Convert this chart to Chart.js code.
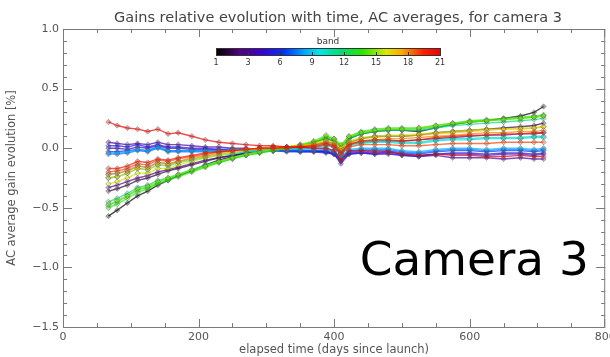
<!DOCTYPE html>
<html>
<head>
<meta charset="utf-8">
<script src="https://cdn.jsdelivr.net/npm/chart.js@4.4.0/dist/chart.umd.min.js"></script>
<style>
  html, body { margin: 0; padding: 0; background: #fff; }
  #wrap { width: 610px; height: 357px; position: relative; }
</style>
</head>
<body>
<div id="wrap"><canvas id="gainChart"></canvas></div>
<script>
// elapsed days (x) for each measurement
const days = [67, 80, 95, 110, 125, 140, 155, 170, 190, 210, 230, 250, 270, 290, 310, 330, 350, 370, 388, 400,
              410, 422, 440, 460, 480, 500, 525, 550, 575, 600, 625, 650, 675, 695, 709];

// AC average gain evolution [%], one array per band
const band1  = [-0.57,-0.52,-0.46,-0.40,-0.36,-0.31,-0.27,-0.23,-0.19,-0.14,-0.10,-0.07,-0.04,-0.02,-0.01,0.00,0.02,0.05,0.08,0.06,-0.02,0.08,0.12,0.14,0.15,0.15,0.14,0.17,0.20,0.22,0.23,0.25,0.27,0.30,0.35];
const band2  = [-0.36,-0.34,-0.31,-0.27,-0.25,-0.22,-0.19,-0.17,-0.14,-0.11,-0.08,-0.06,-0.04,-0.02,-0.01,0.00,0.01,0.03,0.05,0.04,-0.04,0.05,0.08,0.10,0.10,0.10,0.11,0.13,0.14,0.15,0.16,0.17,0.18,0.19,0.21];
const band3  = [-0.33,-0.31,-0.28,-0.25,-0.23,-0.20,-0.18,-0.16,-0.13,-0.10,-0.08,-0.06,-0.04,-0.03,-0.02,-0.01,0.00,0.01,0.03,0.02,-0.06,0.03,0.05,0.06,0.06,0.06,0.07,0.08,0.09,0.10,0.11,0.11,0.12,0.12,0.13];
const band4  = [0.05,0.04,0.03,0.04,0.03,0.05,0.03,0.03,0.02,0.01,0.01,0.00,0.00,-0.01,-0.01,-0.01,-0.02,-0.02,-0.03,-0.05,-0.13,-0.05,-0.04,-0.05,-0.05,-0.06,-0.07,-0.06,-0.08,-0.08,-0.08,-0.09,-0.08,-0.09,-0.09];
const band5  = [0.00,0.00,-0.01,0.01,0.00,0.02,0.00,0.00,-0.01,-0.01,-0.01,-0.01,-0.02,-0.02,-0.02,-0.02,-0.03,-0.03,-0.03,-0.05,-0.10,-0.04,-0.03,-0.04,-0.03,-0.05,-0.06,-0.05,-0.04,-0.04,-0.05,-0.04,-0.04,-0.05,-0.04];
const band6  = [0.02,0.02,0.01,0.03,0.01,0.03,0.01,0.01,0.00,0.00,-0.01,-0.01,-0.01,-0.02,-0.02,-0.03,-0.03,-0.03,-0.04,-0.05,-0.11,-0.05,-0.04,-0.05,-0.04,-0.06,-0.07,-0.05,-0.05,-0.05,-0.06,-0.05,-0.05,-0.06,-0.05];
const band7  = [-0.03,-0.03,-0.02,-0.01,-0.02,0.01,-0.02,-0.02,-0.02,-0.02,-0.02,-0.02,-0.02,-0.02,-0.02,-0.02,-0.02,-0.02,-0.02,-0.04,-0.09,-0.03,-0.02,-0.02,-0.02,-0.04,-0.05,-0.03,-0.02,-0.02,-0.03,-0.02,-0.02,-0.03,-0.02];
const band8  = [-0.05,-0.05,-0.04,-0.02,-0.03,0.00,-0.03,-0.03,-0.03,-0.03,-0.03,-0.02,-0.02,-0.02,-0.02,-0.02,-0.02,-0.02,-0.01,-0.03,-0.08,-0.02,-0.01,-0.01,-0.01,-0.03,-0.04,-0.02,-0.01,-0.01,-0.02,-0.01,-0.01,-0.02,-0.01];
const band9  = [-0.04,-0.04,-0.03,-0.01,-0.02,0.01,-0.02,-0.02,-0.02,-0.02,-0.02,-0.01,-0.01,-0.01,-0.01,-0.01,-0.01,-0.01,0.00,-0.02,-0.07,-0.01,0.00,0.00,0.00,-0.02,-0.03,-0.01,0.00,0.00,-0.01,0.00,0.00,-0.01,0.00];
const band10 = [-0.22,-0.21,-0.19,-0.15,-0.16,-0.12,-0.13,-0.11,-0.09,-0.07,-0.05,-0.04,-0.03,-0.02,-0.01,-0.01,0.00,0.00,0.02,0.01,-0.05,0.02,0.04,0.05,0.05,0.04,0.04,0.06,0.07,0.07,0.08,0.08,0.08,0.09,0.09];
const band11 = [-0.25,-0.24,-0.21,-0.17,-0.18,-0.14,-0.15,-0.12,-0.10,-0.08,-0.06,-0.05,-0.03,-0.02,-0.01,-0.01,0.00,0.01,0.03,0.02,-0.04,0.03,0.05,0.06,0.06,0.05,0.05,0.07,0.08,0.08,0.09,0.09,0.09,0.10,0.10];
const band12 = [-0.45,-0.42,-0.38,-0.33,-0.31,-0.27,-0.25,-0.22,-0.18,-0.14,-0.11,-0.08,-0.05,-0.03,-0.02,0.00,0.02,0.04,0.08,0.06,0.00,0.08,0.12,0.14,0.15,0.15,0.15,0.17,0.19,0.20,0.21,0.22,0.23,0.24,0.25];
const band13 = [-0.48,-0.45,-0.40,-0.35,-0.33,-0.29,-0.26,-0.23,-0.19,-0.15,-0.12,-0.09,-0.06,-0.04,-0.02,0.00,0.02,0.05,0.09,0.07,0.01,0.09,0.13,0.15,0.16,0.16,0.16,0.18,0.20,0.22,0.23,0.24,0.25,0.26,0.27];
const band14 = [-0.50,-0.47,-0.42,-0.37,-0.34,-0.30,-0.27,-0.24,-0.20,-0.16,-0.12,-0.09,-0.06,-0.04,-0.02,0.00,0.03,0.05,0.10,0.08,0.02,0.10,0.14,0.16,0.17,0.17,0.17,0.19,0.21,0.23,0.24,0.25,0.26,0.27,0.28];
const band15 = [-0.47,-0.44,-0.40,-0.34,-0.32,-0.28,-0.25,-0.22,-0.18,-0.15,-0.11,-0.08,-0.05,-0.03,-0.01,0.01,0.03,0.06,0.11,0.08,0.03,0.10,0.13,0.15,0.16,0.16,0.17,0.19,0.21,0.22,0.23,0.24,0.25,0.26,0.27];
const band16 = [-0.30,-0.28,-0.25,-0.21,-0.21,-0.17,-0.17,-0.14,-0.11,-0.08,-0.06,-0.04,-0.02,-0.01,0.00,0.01,0.02,0.04,0.07,0.05,0.00,0.06,0.09,0.10,0.11,0.11,0.12,0.13,0.14,0.15,0.16,0.16,0.17,0.17,0.18];
const band17 = [-0.25,-0.24,-0.21,-0.17,-0.18,-0.14,-0.14,-0.12,-0.09,-0.07,-0.05,-0.03,-0.01,0.00,0.01,0.01,0.02,0.03,0.06,0.04,0.00,0.05,0.08,0.09,0.10,0.10,0.11,0.12,0.13,0.14,0.15,0.16,0.16,0.17,0.18];
const band18 = [-0.22,-0.21,-0.19,-0.15,-0.16,-0.12,-0.13,-0.11,-0.08,-0.06,-0.04,-0.02,-0.01,0.00,0.01,0.01,0.02,0.03,0.05,0.03,-0.02,0.04,0.06,0.07,0.08,0.08,0.09,0.10,0.11,0.12,0.13,0.13,0.14,0.14,0.15];
const band19 = [-0.20,-0.19,-0.17,-0.13,-0.14,-0.10,-0.11,-0.09,-0.07,-0.05,-0.03,-0.02,-0.01,0.00,0.00,0.00,0.01,0.01,0.03,0.01,-0.05,0.01,0.03,0.03,0.03,0.02,0.02,0.03,0.04,0.04,0.04,0.05,0.05,0.05,0.05];
const band20 = [-0.17,-0.17,-0.15,-0.11,-0.12,-0.09,-0.10,-0.08,-0.06,-0.04,-0.03,-0.02,-0.01,0.00,0.00,0.01,0.01,0.02,0.04,0.02,-0.04,0.03,0.06,0.07,0.07,0.06,0.07,0.09,0.10,0.11,0.11,0.12,0.12,0.13,0.13];
const band21 = [0.22,0.19,0.17,0.16,0.14,0.16,0.12,0.13,0.10,0.07,0.05,0.04,0.03,0.02,0.02,0.01,0.01,0.00,0.00,-0.02,-0.10,-0.02,-0.02,-0.03,-0.03,-0.05,-0.06,-0.05,-0.06,-0.06,-0.07,-0.07,-0.06,-0.07,-0.07];

const bandValues = [band1, band2, band3, band4, band5, band6, band7, band8, band9, band10, band11,
                    band12, band13, band14, band15, band16, band17, band18, band19, band20, band21];
const colorbarLabels = ['1', '3', '6', '9', '12', '15', '18', '21'];
const yTicks = [-1.5, -1.0, -0.5, 0.0, 0.5, 1.0];
const xTicks = [0, 200, 400, 600, 800];

// rainbow colour table, black -> purple -> blue -> cyan -> green -> yellow -> red
const cmapStops = [
  [0.00, [0, 0, 0]],
  [0.10, [85, 0, 125]],
  [0.20, [60, 0, 205]],
  [0.30, [0, 50, 255]],
  [0.40, [0, 175, 255]],
  [0.46, [0, 230, 230]],
  [0.55, [0, 220, 120]],
  [0.65, [40, 230, 0]],
  [0.76, [225, 230, 0]],
  [0.83, [255, 165, 0]],
  [0.92, [255, 35, 0]],
  [1.00, [235, 0, 0]]
];
function cmap(t) {
  for (let i = 1; i < cmapStops.length; i++) {
    if (t <= cmapStops[i][0]) {
      const [t0, c0] = cmapStops[i - 1], [t1, c1] = cmapStops[i];
      const f = (t - t0) / (t1 - t0);
      return c0.map((v, k) => Math.round(v + (c1[k] - v) * f));
    }
  }
  return cmapStops[cmapStops.length - 1][1];
}
const rgba = (c, a) => `rgba(${c[0]},${c[1]},${c[2]},${a})`;

const datasets = bandValues.map((vals, i) => {
  const c = cmap(i / 20);
  return {
    label: 'band ' + (i + 1),
    data: vals.map((v, k) => ({ x: days[k], y: v })),
    borderColor: rgba(c, 0.7),
    backgroundColor: rgba(c, 0.5),
    borderWidth: 1.4,
    pointStyle: 'rectRot',
    pointRadius: 2.7,
    pointBorderWidth: 0.8,
    pointBorderColor: 'rgba(90,90,90,0.55)',
    pointBackgroundColor: rgba(c, 0.35),
    order: 21 - i
  };
});

const AXIS = '#7a7a7a';
const TXT = '#555';
const FONT = "'DejaVu Sans', 'Liberation Sans', sans-serif";

// frame, inward ticks, title, colorbar and the "Camera 3" label
const decor = {
  id: 'decor',
  afterDraw(chart) {
    const { ctx, chartArea: a, scales: { x, y } } = chart;
    ctx.save();
    ctx.strokeStyle = AXIS;
    ctx.lineWidth = 1;
    ctx.strokeRect(a.left + 0.5, a.top + 0.5, a.right - a.left - 1, a.bottom - a.top);

    ctx.beginPath();
    for (let v = 0; v <= 800; v += 50) {
      const px = Math.min(Math.round(x.getPixelForValue(v)), a.right - 1) + 0.5;
      const len = v % 200 === 0 ? 8 : 4;
      ctx.moveTo(px, a.bottom); ctx.lineTo(px, a.bottom - len);
      ctx.moveTo(px, a.top); ctx.lineTo(px, a.top + len);
    }
    for (let i = -15; i <= 10; i++) {
      const py = Math.round(y.getPixelForValue(i / 10)) + 0.5;
      const len = i % 5 === 0 ? 9 : 4;
      ctx.moveTo(a.left, py); ctx.lineTo(a.left + len, py);
      ctx.moveTo(a.right, py); ctx.lineTo(a.right - len, py);
    }
    ctx.stroke();

    // title
    ctx.fillStyle = '#444';
    ctx.font = '14.5px ' + FONT;
    ctx.textAlign = 'center';
    ctx.textBaseline = 'alphabetic';
    ctx.fillText('Gains relative evolution with time, AC averages, for camera 3', 338, 22);

    // colorbar
    const cbL = 216, cbR = 440, cbT = 48, cbB = 55;
    for (let px = cbL; px < cbR; px++) {
      ctx.fillStyle = rgba(cmap((px - cbL) / (cbR - cbL)), 1);
      ctx.fillRect(px, cbT, 1, cbB - cbT);
    }
    ctx.strokeStyle = '#333';
    ctx.strokeRect(cbL + 0.5, cbT + 0.5, cbR - cbL, cbB - cbT);
    ctx.fillStyle = '#333';
    ctx.font = '9px ' + FONT;
    ctx.fillText('band', (cbL + cbR) / 2, 44);
    ctx.font = '8px ' + FONT;
    colorbarLabels.forEach((lab, k) => {
      const px = cbL + (cbR - cbL) * k / (colorbarLabels.length - 1);
      ctx.fillText(lab, px, 65);
      if (k > 0 && k < colorbarLabels.length - 1) {
        ctx.beginPath();
        ctx.moveTo(px + 0.5, cbB); ctx.lineTo(px + 0.5, cbB - 3);
        ctx.stroke();
      }
    });

    // big camera label
    ctx.fillStyle = '#000';
    ctx.font = "47px 'DejaVu Sans', sans-serif";
    ctx.textAlign = 'right';
    ctx.fillText('Camera 3', 589, 275);
    ctx.restore();
  }
};

new Chart(document.getElementById('gainChart'), {
  type: 'line',
  data: { datasets: datasets },
  options: {
    responsive: true,
    maintainAspectRatio: false,
    animation: false,
    layout: { padding: { top: 29, right: 1, left: 0, bottom: 0 } },
    plugins: { legend: { display: false }, tooltip: { enabled: false } },
    elements: { line: { tension: 0 } },
    scales: {
      x: {
        type: 'linear',
        min: 0,
        max: 800,
        afterBuildTicks: (s) => { s.ticks = xTicks.map(v => ({ value: v })); },
        afterFit: (s) => { s.height = 30; s.paddingLeft = 0; s.paddingRight = 0; },
        grid: { display: false, drawTicks: false },
        border: { display: false },
        ticks: { color: TXT, font: { family: FONT, size: 11 }, padding: 4, maxRotation: 0 },
        title: { display: true, text: 'elapsed time (days since launch)', color: TXT,
                 font: { family: FONT, size: 11.5 }, padding: { top: -1, bottom: 0 } }
      },
      y: {
        min: -1.5,
        max: 1.0,
        afterBuildTicks: (s) => { s.ticks = yTicks.map(v => ({ value: v })); },
        afterFit: (s) => { s.width = 63; },
        grid: { display: false, drawTicks: false },
        border: { display: false },
        ticks: { color: TXT, font: { family: FONT, size: 11 }, padding: 4,
                 callback: (v) => (v < 0 ? '\u2212' : '') + Math.abs(v).toFixed(1) },
        title: { display: true, text: 'AC average gain evolution [%]', color: TXT,
                 font: { family: FONT, size: 11.5 }, padding: { top: 5, bottom: 2 } }
      }
    }
  },
  plugins: [decor]
});
</script>
</body>
</html>
